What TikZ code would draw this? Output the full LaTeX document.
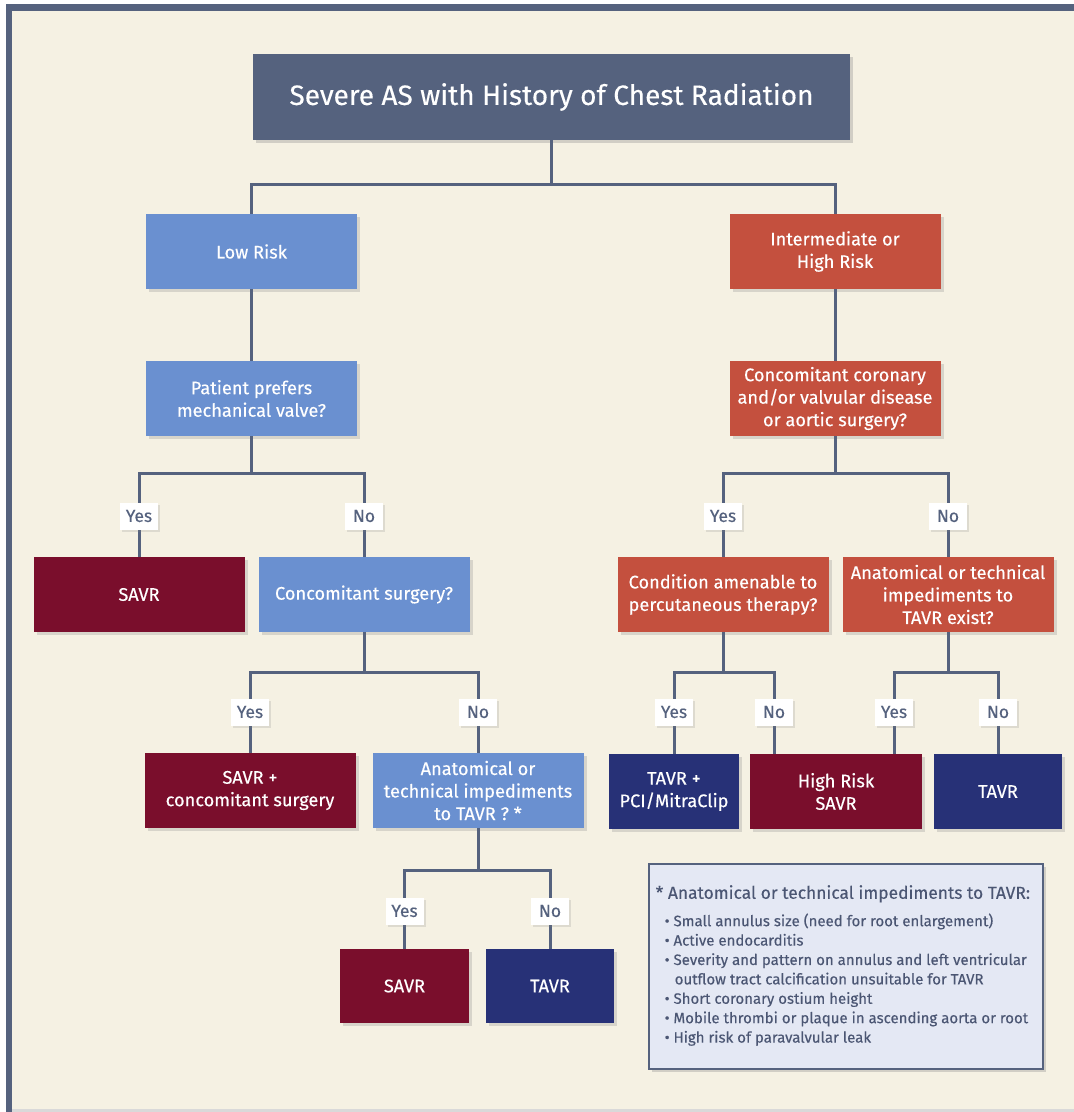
\documentclass[tikz,border=0pt]{standalone}
\usepackage{fontspec}
\setmainfont{Fira Sans}[FakeBold=0.3]
\usetikzlibrary{shadows,calc}
\definecolor{slate}{HTML}{55627E}
\definecolor{cream}{HTML}{F5F1E3}
\definecolor{lblue}{HTML}{6A90D0}
\definecolor{rust}{HTML}{C4503E}
\definecolor{maroon}{HTML}{7A0E2C}
\definecolor{navy}{HTML}{273177}
\definecolor{lav}{HTML}{E4E8F4}
\definecolor{fntxt}{HTML}{4B5673}
\begin{document}
\begin{tikzpicture}[x=1pt,y=-1pt,
  box/.style={rectangle, minimum width=211pt, minimum height=75pt, inner sep=2pt,
    text=white, align=center, font=\fontsize{18.2}{22.5}\selectfont,
    drop shadow={opacity=0.25, shadow xshift=3pt, shadow yshift=-3pt}},
  bluebox/.style={box, fill=lblue},
  rustbox/.style={box, fill=rust},
  maroonbox/.style={box, fill=maroon},
  navybox/.style={box, fill=navy},
  titlebox/.style={rectangle, fill=slate, text=white, minimum width=597pt, minimum height=86pt,
    font=\fontsize{28}{32}\selectfont,
    drop shadow={opacity=0.3, shadow xshift=3pt, shadow yshift=-3pt}},
  yn/.style={rectangle, fill=white, text=slate, minimum width=38pt, minimum height=27pt, inner sep=1pt,
    font=\fontsize{17.5}{20}\selectfont,
    drop shadow={opacity=0.2, shadow xshift=2pt, shadow yshift=-2pt}},
  conn/.style={draw=slate, line width=3pt},
  fnbox/.style={rectangle, fill=lav, draw=slate, line width=2pt, minimum width=394pt, minimum height=205pt,
    drop shadow={opacity=0.3, shadow xshift=3pt, shadow yshift=-3pt}},
  fntext/.style={text=fntxt, align=left, inner sep=0pt, font=\fontsize{15}{19.4}\selectfont}
]
\useasboundingbox (0,0) rectangle (1074,1112);
% frame
\fill[white] (0,0) rectangle (1074,1112);
\fill[cream] (12,11) rectangle (1074,1109);
\fill[slate] (6,4) rectangle (12,1112);
\fill[slate] (6,4) rectangle (1074,11);
\fill[black!15] (12,1109) rectangle (1074,1112);

% nodes
\node[titlebox] (title) at (551.5,97) {Severe AS with History of Chest Radiation};
\node[bluebox] (low) at (251.5,251.5) {Low Risk};
\node[rustbox] (int) at (835,251.5) {Intermediate or\\High Risk};
\node[bluebox] (pref) at (251.5,398.5) {Patient prefers\\mechanical valve?};
\node[rustbox] (conc) at (835,398.5) {Concomitant coronary\\and/or valvular disease\\or aortic surgery?};
\node[maroonbox] (savr1) at (139,594.5) {SAVR};
\node[bluebox] (csurg) at (364,594.5) {Concomitant surgery?};
\node[rustbox] (amen) at (723,594.5) {Condition amenable to\\percutaneous therapy?};
\node[rustbox] (anatR) at (948,594.5) {Anatomical or technical\\impediments to\\TAVR exist?};
\node[maroonbox] (savrc) at (250,790.5) {SAVR +\\concomitant surgery};
\node[bluebox] (anatL) at (478,790.5) {Anatomical or\\technical impediments\\to TAVR ? *};
\node[navybox, minimum width=130pt] (tavrpci) at (674,791.5) {TAVR +\\PCI/MitraClip};
\node[maroonbox, minimum width=172pt] (hrsavr) at (836,791.5) {High Risk\\SAVR};
\node[navybox, minimum width=128pt] (tavrR) at (998,791.5) {TAVR};
\node[maroonbox, minimum width=129pt, minimum height=74pt] (savr2) at (404.5,986) {SAVR};
\node[navybox, minimum width=128pt, minimum height=74pt] (tavr2) at (550,986) {TAVR};

% connector helper coordinates
\coordinate (h1) at (0,184);
\coordinate (h2) at (0,473);
\coordinate (h4) at (0,672);
\coordinate (h6) at (0,870);
\coordinate (l1) at (774,0);
\coordinate (l2) at (894,0);

% connectors
\draw[conn] (title.south) -- (title.south |- h1);
\draw[conn] (low.north) |- (h1 -| int.north) -- (int.north);
\draw[conn] (low.south) -- (pref.north);
\draw[conn] (int.south) -- (conc.north);
\draw[conn] (pref.south) -- (pref.south |- h2);
\draw[conn] (savr1.north) |- (h2 -| csurg.north) -- (csurg.north);
\draw[conn] (conc.south) -- (conc.south |- h2);
\draw[conn] (amen.north) |- (h2 -| anatR.north) -- (anatR.north);
\draw[conn] (csurg.south) -- (csurg.south |- h4);
\draw[conn] (savrc.north) |- (h4 -| anatL.north) -- (anatL.north);
\draw[conn] (amen.south) -- (amen.south |- h4);
\draw[conn] (tavrpci.north) |- (h4 -| l1) -- (l1 |- hrsavr.north);
\draw[conn] (anatR.south) -- (anatR.south |- h4);
\draw[conn] (l2 |- hrsavr.north) |- (h4 -| tavrR.north) -- (tavrR.north);
\draw[conn] (anatL.south) -- (anatL.south |- h6);
\draw[conn] (savr2.north) |- (h6 -| tavr2.north) -- (tavr2.north);

% yes/no labels
\node[yn] (y1) at (139,516) {Yes};
\node[yn] (n1) at (364,516) {No};
\node[yn] (y2) at (723,516) {Yes};
\node[yn] (n2) at (948,516) {No};
\node[yn] (y3) at (250,712) {Yes};
\node[yn] (n3) at (478,712) {No};
\node[yn] (y4) at (674,712) {Yes};
\node[yn] (n4) at (774,712) {No};
\node[yn] (y5) at (894,712) {Yes};
\node[yn] (n5) at (998,712) {No};
\node[yn] (y6) at (404.5,911) {Yes};
\node[yn] (n6) at (550,911) {No};

% footnote
\node[fnbox] (fn) at (845.5,966.5) {};
\node[fntext, anchor=north west] (fnt) at ($(fn.north west)+(8,22)$) {%
{\fontsize{17.4}{20}\selectfont * Anatomical or technical impediments to TAVR:}\\[8pt]
\hspace*{9pt}• Small annulus size (need for root enlargement)\\
\hspace*{9pt}• Active endocarditis\\
\hspace*{9pt}• Severity and pattern on annulus and left ventricular\\
\hspace*{19pt}outflow tract calcification unsuitable for TAVR\\
\hspace*{9pt}• Short coronary ostium height\\
\hspace*{9pt}• Mobile thrombi or plaque in ascending aorta or root\\
\hspace*{9pt}• High risk of paravalvular leak};
\end{tikzpicture}
\end{document}
